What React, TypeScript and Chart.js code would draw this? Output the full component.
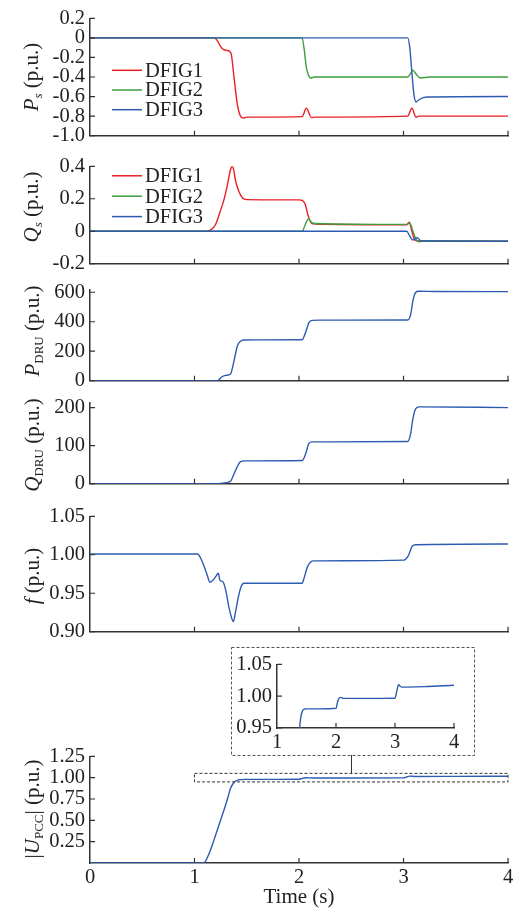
import React, { useEffect, useRef } from "react";
import { Chart, registerables } from "chart.js";

Chart.register(...registerables);

// ---------- tick values & labels ----------
const timeTicks = [0, 1, 2, 3, 4];
const timeTickLabels = ["0", "1", "2", "3", "4"];
const insetTimeTicks = [1, 2, 3, 4];
const insetTimeTickLabels = ["1", "2", "3", "4"];

const psTicks = [-1.0, -0.8, -0.6, -0.4, -0.2, 0, 0.2];
const psTickLabels = ["-1.0", "-0.8", "-0.6", "-0.4", "-0.2", "0", "0.2"];
const qsTicks = [-0.2, 0, 0.2, 0.4];
const qsTickLabels = ["-0.2", "0", "0.2", "0.4"];
const pdruTicks = [0, 200, 400, 600];
const pdruTickLabels = ["0", "200", "400", "600"];
const qdruTicks = [0, 100, 200];
const qdruTickLabels = ["0", "100", "200"];
const fTicks = [0.9, 0.95, 1.0, 1.05];
const fTickLabels = ["0.90", "0.95", "1.00", "1.05"];
const uTicks = [0.25, 0.5, 0.75, 1.0, 1.25];
const uTickLabels = ["0.25", "0.50", "0.75", "1.00", "1.25"];
const insetUTicks = [0.95, 1.0, 1.05];
const insetUTickLabels = ["0.95", "1.00", "1.05"];

const seriesNames = ["DFIG1", "DFIG2", "DFIG3"];

// ---------- series data (time in s, values) ----------
// P_s
const psDfig1T = [0, 1.19, 1.22, 1.25, 1.28, 1.32, 1.35, 1.38, 1.41, 1.44, 1.47, 1.5, 2.03, 2.07, 2.12, 2.15, 3.04, 3.08, 3.12, 3.15, 4.0];
const psDfig1V = [0, 0, -0.03, -0.09, -0.12, -0.13, -0.16, -0.42, -0.68, -0.8, -0.82, -0.81, -0.805, -0.72, -0.815, -0.81, -0.8, -0.72, -0.81, -0.8, -0.8];
const psDfig2T = [0, 2.03, 2.05, 2.07, 2.09, 2.11, 2.15, 3.04, 3.07, 3.09, 3.12, 3.16, 3.25, 4.0];
const psDfig2V = [0, 0, -0.12, -0.3, -0.38, -0.41, -0.4, -0.4, -0.36, -0.33, -0.37, -0.41, -0.4, -0.4];
const psDfig3T = [0, 3.04, 3.06, 3.08, 3.1, 3.12, 3.15, 3.22, 4.0];
const psDfig3V = [0, 0, -0.1, -0.35, -0.58, -0.655, -0.63, -0.605, -0.6];

// Q_s
const qsDfig1T = [0, 1.12, 1.16, 1.2, 1.25, 1.28, 1.31, 1.345, 1.36, 1.375, 1.39, 1.425, 1.46, 1.5, 2.0, 2.03, 2.06, 2.09, 2.12, 2.15, 3.03, 3.055, 3.08, 3.11, 3.15, 4.0];
const qsDfig1V = [0, 0, 0.01, 0.04, 0.13, 0.19, 0.27, 0.38, 0.4, 0.38, 0.32, 0.245, 0.205, 0.195, 0.193, 0.19, 0.165, 0.09, 0.05, 0.045, 0.04, 0.055, 0.0, -0.055, -0.06, -0.062];
const qsDfig2T = [0, 2.03, 2.06, 2.09, 2.12, 2.15, 3.03, 3.06, 3.09, 3.12, 3.15, 3.2, 4.0];
const qsDfig2V = [0, 0, 0.04, 0.075, 0.055, 0.048, 0.042, 0.05, 0.0, -0.05, -0.065, -0.06, -0.062];
const qsDfig3T = [0, 3.03, 3.06, 3.09, 3.11, 3.13, 3.17, 4.0];
const qsDfig3V = [0, 0, -0.03, -0.055, -0.045, -0.04, -0.06, -0.062];

// P_DRU
const pdruT = [0, 1.22, 1.26, 1.3, 1.345, 1.377, 1.41, 1.44, 1.475, 1.6, 2.03, 2.06, 2.095, 2.127, 2.2, 3.04, 3.068, 3.09, 3.116, 3.148, 3.3, 4.0];
const pdruV = [0, 0, 25, 36, 46, 131, 236, 268, 276, 277, 278, 321, 394, 409, 411, 412, 447, 542, 599, 607, 605, 604];

// Q_DRU
const qdruT = [0, 1.22, 1.3, 1.345, 1.377, 1.41, 1.44, 1.475, 2.03, 2.063, 2.095, 2.127, 3.04, 3.068, 3.09, 3.116, 3.15, 4.0];
const qdruV = [0, 0, 2.4, 6.5, 25, 45, 58, 60, 61, 78, 106, 110, 111, 131, 171, 197, 202, 200];

// f
const fT = [0, 1.03, 1.058, 1.09, 1.122, 1.147, 1.179, 1.211, 1.227, 1.243, 1.272, 1.297, 1.329, 1.355, 1.371, 1.393, 1.419, 1.447, 1.473, 2.03, 2.047, 2.079, 2.111, 2.143, 3.0, 3.043, 3.085, 3.116, 4.0];
const fV = [1.001, 1.001, 0.9958, 0.9856, 0.9733, 0.9643, 0.9672, 0.9733, 0.9761, 0.967, 0.965, 0.955, 0.932, 0.918, 0.913, 0.926, 0.9446, 0.959, 0.963, 0.963, 0.969, 0.9836, 0.9905, 0.992, 0.993, 0.998, 1.0114, 1.013, 1.014];

// |U_PCC|
const uT = [0, 1.09, 1.11, 1.14, 1.17, 1.2, 1.23, 1.26, 1.29, 1.32, 1.345, 1.38, 1.42, 1.48, 1.7, 2.0, 2.03, 2.07, 2.13, 2.5, 3.0, 3.03, 3.06, 3.11, 3.5, 4.0];
const uV = [0, 0, 0.03, 0.11, 0.21, 0.32, 0.43, 0.54, 0.65, 0.77, 0.875, 0.945, 0.974, 0.98, 0.98, 0.981, 0.992, 0.998, 0.9965, 0.9965, 0.9968, 1.0076, 1.0179, 1.0142, 1.015, 1.017];

// zoom window shown in the inset
const zoomWindowT = [1, 4];
const zoomWindowU = [0.95, 1.05];
const connectorT = 2.5;

// ---------- styles ----------
const RED = "#ea1f25";
const GREEN = "#3c9e3f";
const BLUE = "#2c5bb1";
const AXIS = "#333333";
const TEXT = "#222222";
const FONT = '"Liberation Serif", "Times New Roman", serif';

const toXY = (t: number[], v: number[]) => t.map((x, i) => ({ x, y: v[i] }));

// ---------- plugins ----------
const innerTicksPlugin = {
  id: "innerTicks",
  afterDraw(chart: any, _a: any, opts: any) {
    const { ctx, chartArea } = chart;
    const xs = chart.scales.x;
    const ys = chart.scales.y;
    ctx.save();
    ctx.strokeStyle = AXIS;
    ctx.lineWidth = 1.2;
    ctx.beginPath();
    (opts.xValues || []).forEach((v: number) => {
      const px = xs.getPixelForValue(v);
      ctx.moveTo(px, chartArea.bottom);
      ctx.lineTo(px, chartArea.bottom - opts.len);
    });
    (opts.yValues || []).forEach((v: number) => {
      const py = ys.getPixelForValue(v);
      ctx.moveTo(chartArea.left, py);
      ctx.lineTo(chartArea.left + opts.len, py);
    });
    ctx.stroke();
    ctx.restore();
  },
};

const inlineLegendPlugin = {
  id: "inlineLegend",
  afterDraw(chart: any, _a: any, opts: any) {
    if (!opts || !opts.show) return;
    const { ctx, chartArea } = chart;
    ctx.save();
    chart.data.datasets.forEach((ds: any, i: number) => {
      const y = chartArea.top + opts.firstOffset + i * opts.spacing;
      ctx.strokeStyle = ds.borderColor;
      ctx.lineWidth = 1.5;
      ctx.beginPath();
      ctx.moveTo(opts.lineX0, y);
      ctx.lineTo(opts.lineX1, y);
      ctx.stroke();
      ctx.fillStyle = TEXT;
      ctx.font = `20.5px ${FONT}`;
      ctx.textBaseline = "middle";
      ctx.textAlign = "left";
      ctx.fillText(ds.label, opts.textX, y + 1);
    });
    ctx.restore();
  },
};

const zoomRectPlugin = {
  id: "zoomRect",
  afterDatasetsDraw(chart: any, _a: any, opts: any) {
    if (!opts || !opts.show) return;
    const { ctx } = chart;
    const xs = chart.scales.x;
    const ys = chart.scales.y;
    const x0 = xs.getPixelForValue(opts.t0);
    const x1 = xs.getPixelForValue(opts.t1);
    const y0 = ys.getPixelForValue(opts.v1);
    const y1 = ys.getPixelForValue(opts.v0);
    ctx.save();
    ctx.strokeStyle = AXIS;
    ctx.lineWidth = 1;
    ctx.setLineDash([3, 2]);
    ctx.strokeRect(x0, y0, x1 - x0, y1 - y0);
    ctx.setLineDash([]);
    const cx = Math.round(xs.getPixelForValue(opts.tc)) + 0.5;
    ctx.beginPath();
    ctx.moveTo(cx, y0);
    ctx.lineTo(cx, opts.connectorTop);
    ctx.stroke();
    ctx.restore();
  },
};

const dashedFramePlugin = {
  id: "dashedFrame",
  afterDraw(chart: any, _a: any, opts: any) {
    if (!opts || !opts.show) return;
    const { ctx, width, height } = chart;
    ctx.save();
    ctx.strokeStyle = "#555555";
    ctx.lineWidth = 1;
    ctx.setLineDash([3, 2]);
    ctx.strokeRect(0.5, 0.5, width - 1, height - 1);
    ctx.restore();
  },
};

type DS = { label: string; t: number[]; v: number[]; color: string; order: number };
type Panel = {
  key: string;
  left: number;
  top: number;
  width: number;
  height: number;
  padTop: number;
  padRight: number;
  padBottom: number;
  yAxisWidth: number;
  xAxisHeight: number;
  xMin: number;
  xMax: number;
  xTicks: number[];
  xLabels: string[];
  xInner: number[];
  showXLabels: boolean;
  xTitle?: string;
  yMin: number;
  yMax: number;
  yTicks: number[];
  yLabels: string[];
  datasets: DS[];
  legend?: any;
  zoom?: any;
  frame?: boolean;
};

const legend1 = { show: true, lineX0: 112, lineX1: 142, textX: 145, firstOffset: 52, spacing: 19.7 };
const legend2 = { show: true, lineX0: 112, lineX1: 142, textX: 145, firstOffset: 9.5, spacing: 20.4 };

const panels: Panel[] = [
  {
    key: "ps", left: 0, top: 1, width: 526, height: 152, padTop: 14, padRight: 18, padBottom: 0,
    yAxisWidth: 90, xAxisHeight: 14, xMin: 0, xMax: 4, xTicks: timeTicks, xLabels: timeTickLabels,
    xInner: [1, 2, 3, 4], showXLabels: false, yMin: -1.0, yMax: 0.2, yTicks: psTicks, yLabels: psTickLabels,
    datasets: [
      { label: seriesNames[0], t: psDfig1T, v: psDfig1V, color: RED, order: 2 },
      { label: seriesNames[1], t: psDfig2T, v: psDfig2V, color: GREEN, order: 1 },
      { label: seriesNames[2], t: psDfig3T, v: psDfig3V, color: BLUE, order: 0 },
    ],
    legend: legend1,
  },
  {
    key: "qs", left: 0, top: 149, width: 526, height: 132, padTop: 14, padRight: 18, padBottom: 0,
    yAxisWidth: 90, xAxisHeight: 14, xMin: 0, xMax: 4, xTicks: timeTicks, xLabels: timeTickLabels,
    xInner: [1, 2, 3, 4], showXLabels: false, yMin: -0.2, yMax: 0.4, yTicks: qsTicks, yLabels: qsTickLabels,
    datasets: [
      { label: seriesNames[0], t: qsDfig1T, v: qsDfig1V, color: RED, order: 2 },
      { label: seriesNames[1], t: qsDfig2T, v: qsDfig2V, color: GREEN, order: 1 },
      { label: seriesNames[2], t: qsDfig3T, v: qsDfig3V, color: BLUE, order: 0 },
    ],
    legend: legend2,
  },
  {
    key: "pdru", left: 0, top: 272, width: 526, height: 126, padTop: 14, padRight: 18, padBottom: 0,
    yAxisWidth: 90, xAxisHeight: 14, xMin: 0, xMax: 4, xTicks: timeTicks, xLabels: timeTickLabels,
    xInner: [1, 2, 3, 4], showXLabels: false, yMin: 0, yMax: 620, yTicks: pdruTicks, yLabels: pdruTickLabels,
    datasets: [{ label: "P_DRU", t: pdruT, v: pdruV, color: BLUE, order: 0 }],
  },
  {
    key: "qdru", left: 0, top: 385, width: 526, height: 116, padTop: 14, padRight: 18, padBottom: 0,
    yAxisWidth: 90, xAxisHeight: 14, xMin: 0, xMax: 4, xTicks: timeTicks, xLabels: timeTickLabels,
    xInner: [1, 2, 3, 4], showXLabels: false, yMin: 0, yMax: 214, yTicks: qdruTicks, yLabels: qdruTickLabels,
    datasets: [{ label: "Q_DRU", t: qdruT, v: qdruV, color: BLUE, order: 0 }],
  },
  {
    key: "f", left: 0, top: 499, width: 526, height: 150, padTop: 14, padRight: 18, padBottom: 0,
    yAxisWidth: 90, xAxisHeight: 14, xMin: 0, xMax: 4, xTicks: timeTicks, xLabels: timeTickLabels,
    xInner: [1, 2, 3, 4], showXLabels: false, yMin: 0.9, yMax: 1.05, yTicks: fTicks, yLabels: fTickLabels,
    datasets: [{ label: "f", t: fT, v: fV, color: BLUE, order: 0 }],
  },
  {
    key: "inset", left: 231, top: 647, width: 244, height: 109, padTop: 16, padRight: 21, padBottom: 2,
    yAxisWidth: 46, xAxisHeight: 26, xMin: 1, xMax: 4, xTicks: insetTimeTicks, xLabels: insetTimeTickLabels,
    xInner: [2, 3, 4], showXLabels: true, yMin: 0.95, yMax: 1.05, yTicks: insetUTicks, yLabels: insetUTickLabels,
    datasets: [{ label: "|U_PCC| zoom", t: uT, v: uV, color: BLUE, order: 0 }],
    frame: true,
  },
  {
    key: "u", left: 0, top: 739, width: 526, height: 173, padTop: 14, padRight: 18, padBottom: 2,
    yAxisWidth: 90, xAxisHeight: 47, xMin: 0, xMax: 4, xTicks: timeTicks, xLabels: timeTickLabels,
    xInner: [1, 2, 3, 4], showXLabels: true, xTitle: "Time (s)", yMin: 0, yMax: 1.25, yTicks: uTicks, yLabels: uTickLabels,
    datasets: [{ label: "|U_PCC|", t: uT, v: uV, color: BLUE, order: 0 }],
    zoom: { show: true, t0: zoomWindowT[0], t1: zoomWindowT[1], v0: zoomWindowU[0], v1: zoomWindowU[1], tc: connectorT, connectorTop: 16 },
  },
];

const titleStyle = (cx: number, cy: number): React.CSSProperties => ({
  position: "absolute",
  left: cx,
  top: cy,
  transform: "translate(-50%, -50%) rotate(-90deg)",
  whiteSpace: "nowrap",
  fontFamily: FONT,
  fontSize: 21,
  lineHeight: "22px",
  color: TEXT,
});
const subStyle: React.CSSProperties = { fontSize: 13, verticalAlign: "-4px", lineHeight: 0 };

function makeConfig(p: Panel): any {
  return {
    type: "line",
    data: {
      datasets: p.datasets.map((d) => ({
        label: d.label,
        data: toXY(d.t, d.v),
        borderColor: d.color,
        backgroundColor: d.color,
        borderWidth: 1.4,
        pointRadius: 0,
        fill: false,
        cubicInterpolationMode: "monotone",
        order: d.order,
      })),
    },
    options: {
      animation: false,
      responsive: false,
      devicePixelRatio: 1,
      events: [],
      layout: { padding: { top: p.padTop, right: p.padRight, bottom: p.padBottom, left: 0 } },
      plugins: {
        legend: { display: false },
        tooltip: { enabled: false },
        innerTicks: { xValues: p.xInner, yValues: p.yTicks, len: 5 },
        inlineLegend: p.legend || { show: false },
        zoomRect: p.zoom || { show: false },
        dashedFrame: { show: !!p.frame },
      },
      scales: {
        x: {
          type: "linear",
          min: p.xMin,
          max: p.xMax,
          bounds: "data",
          grid: { display: false, drawTicks: false },
          border: { display: true, color: AXIS, width: 1.5 },
          ticks: {
            display: p.showXLabels,
            autoSkip: false,
            maxRotation: 0,
            padding: 2,
            color: TEXT,
            font: { family: FONT, size: 20.5 },
            callback: (val: number) => {
              const i = p.xTicks.indexOf(val);
              return i >= 0 ? p.xLabels[i] : "";
            },
          },
          afterBuildTicks: (s: any) => {
            s.ticks = p.xTicks.map((v) => ({ value: v }));
          },
          afterFit: (s: any) => {
            s.height = p.xAxisHeight;
          },
          title: p.xTitle
            ? { display: true, text: p.xTitle, color: TEXT, font: { family: FONT, size: 21 }, padding: { top: 0, bottom: 0 } }
            : { display: false },
        },
        y: {
          type: "linear",
          min: p.yMin,
          max: p.yMax,
          bounds: "data",
          grid: { display: false, drawTicks: false },
          border: { display: true, color: AXIS, width: 1.5 },
          ticks: {
            autoSkip: false,
            padding: 5,
            color: TEXT,
            font: { family: FONT, size: 20.5 },
            callback: (val: number) => {
              const i = p.yTicks.indexOf(val);
              return i >= 0 ? p.yLabels[i] : "";
            },
          },
          afterBuildTicks: (s: any) => {
            s.ticks = p.yTicks.map((v) => ({ value: v }));
          },
          afterFit: (s: any) => {
            s.width = p.yAxisWidth;
          },
        },
      },
    },
    plugins: [innerTicksPlugin, inlineLegendPlugin, zoomRectPlugin, dashedFramePlugin],
  };
}

export default function App() {
  const refs = useRef<(HTMLCanvasElement | null)[]>([]);

  useEffect(() => {
    const charts = panels.map((p, i) => {
      const c = refs.current[i] as HTMLCanvasElement;
      return new Chart(c, makeConfig(p));
    });
    return () => charts.forEach((c) => c.destroy());
  }, []);

  return (
    <div style={{ position: "absolute", left: 0, top: 0, width: 526, height: 912, background: "#ffffff", overflow: "hidden" }}>
      {panels.map((p, i) => (
        <canvas
          key={p.key}
          ref={(el) => {
            refs.current[i] = el;
          }}
          width={p.width}
          height={p.height}
          style={{ position: "absolute", left: p.left, top: p.top, width: p.width, height: p.height }}
        />
      ))}
      <div style={titleStyle(31, 77)}>
        <i>P</i>
        <sub style={subStyle}><i>s</i></sub> (p.u.)
      </div>
      <div style={titleStyle(31, 207)}>
        <i>Q</i>
        <sub style={subStyle}><i>s</i></sub> (p.u.)
      </div>
      <div style={titleStyle(32, 331)}>
        <i>P</i>
        <sub style={subStyle}>DRU</sub> (p.u.)
      </div>
      <div style={titleStyle(32, 445)}>
        <i>Q</i>
        <sub style={subStyle}>DRU</sub> (p.u.)
      </div>
      <div style={titleStyle(32, 576)}>
        <i>f</i> (p.u.)
      </div>
      <div style={titleStyle(32, 809)}>
        |<i>U</i>
        <sub style={subStyle}>PCC</sub>| (p.u.)
      </div>
    </div>
  );
}
